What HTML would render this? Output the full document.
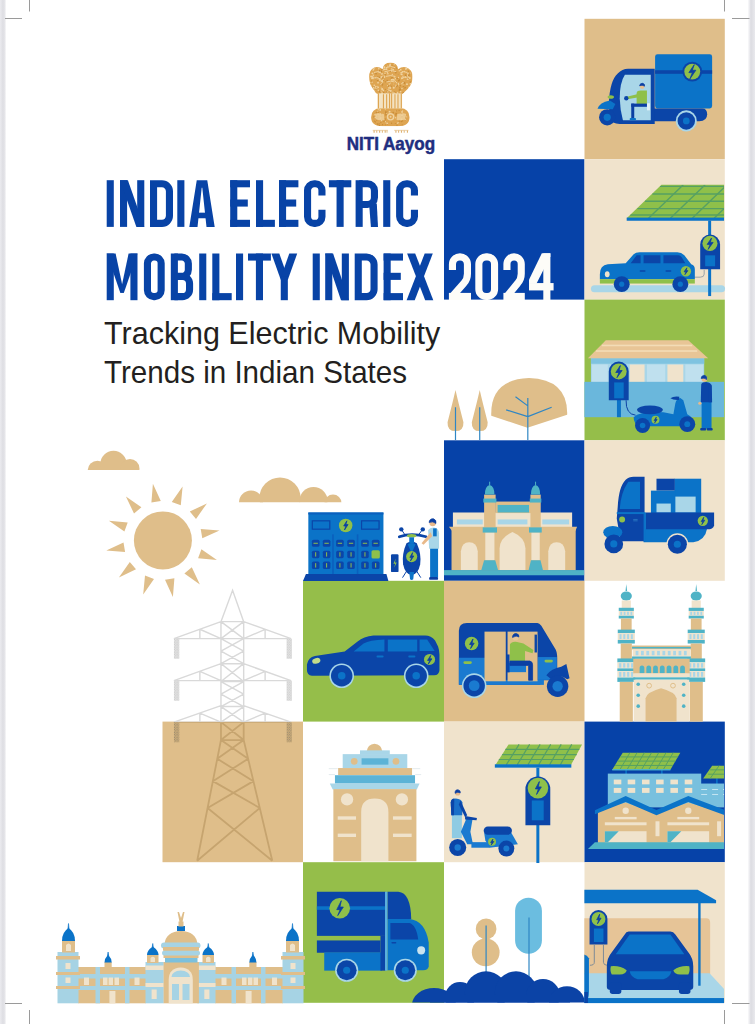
<!DOCTYPE html>
<html><head><meta charset="utf-8">
<style>
html,body{margin:0;padding:0;background:#fff;width:755px;height:1024px;overflow:hidden}
svg{position:absolute;left:0;top:0;display:block}
path[fill="#0b3fa3"]{stroke:#0b3fa3;stroke-width:4;stroke-linejoin:round}
.sub{position:absolute;white-space:nowrap;font-family:"Liberation Sans",sans-serif;color:#231f20;font-size:31.3px;line-height:1;transform-origin:0 0}
</style></head><body>
<svg width="755" height="1024" viewBox="0 0 755 1024">
<defs>
<linearGradient id="gl" x1="0" x2="1"><stop offset="0" stop-color="#ebebef"/><stop offset="0.45" stop-color="#dedee3"/><stop offset="0.7" stop-color="#e5e5e9"/><stop offset="1" stop-color="#ffffff"/></linearGradient>
<linearGradient id="gr" x1="0" x2="1"><stop offset="0" stop-color="#ffffff"/><stop offset="0.3" stop-color="#e9e9ed"/><stop offset="0.45" stop-color="#dcdce1"/><stop offset="1" stop-color="#e9e9ed"/></linearGradient>
</defs>
<rect x="0" y="0" width="6.5" height="1024" fill="url(#gl)"/>
<rect x="747.5" y="0" width="7.5" height="1024" fill="url(#gr)"/>
<g stroke="#9a9a9a" stroke-width="1">
<line x1="29.5" y1="0" x2="29.5" y2="11.5"/><line x1="5" y1="18.5" x2="22" y2="18.5"/>
<line x1="724.5" y1="0" x2="724.5" y2="11.5"/><line x1="732" y1="18.5" x2="749.5" y2="18.5"/>
<line x1="5" y1="1003.5" x2="22" y2="1003.5"/><line x1="29.5" y1="1010" x2="29.5" y2="1024"/>
<line x1="732" y1="1003.5" x2="749.5" y2="1003.5"/><line x1="724.5" y1="1010" x2="724.5" y2="1024"/>
</g>
<rect x="584.5" y="18.8" width="140.30" height="140.40" fill="#dfbe8a"/>
<rect x="444" y="159.2" width="140.50" height="140.40" fill="#0642a8"/>
<rect x="584.5" y="159.2" width="140.30" height="140.40" fill="#f0e3cc"/>
<rect x="584.5" y="299.6" width="140.30" height="140.70" fill="#95be4a"/>
<rect x="444" y="440.3" width="140.50" height="140.50" fill="#0642a8"/>
<rect x="584.5" y="440.3" width="140.30" height="140.50" fill="#f0e3cc"/>
<rect x="303" y="580.8" width="141.00" height="140.80" fill="#95be4a"/>
<rect x="444" y="580.8" width="140.50" height="140.80" fill="#dfbe8a"/>
<rect x="162.5" y="721.6" width="140.50" height="140.60" fill="#dfbe8a"/>
<rect x="444" y="721.6" width="140.50" height="140.60" fill="#f0e3cc"/>
<rect x="584.5" y="721.6" width="140.30" height="140.60" fill="#0642a8"/>
<rect x="303" y="862.2" width="141.00" height="140.60" fill="#95be4a"/>
<rect x="584.5" y="862.2" width="140.30" height="140.60" fill="#f0e3cc"/>
<!-- sky -->
<defs><clipPath id="cpC1"><rect x="80" y="440" width="70" height="30.1"/></clipPath><clipPath id="cpC2"><rect x="230" y="470" width="120" height="32.3"/></clipPath></defs>
<g fill="#dfbe8a">
<circle cx="162.9" cy="540.4" r="29"/>
<path d="M152.9,483.8L151.4,502.6L160.8,501.0Z M182.6,486.4L171.8,501.9L180.8,505.2Z M206.9,503.4L189.8,511.5L196.0,518.9Z M219.5,530.4L200.7,528.9L202.3,538.3Z M216.9,560.1L201.4,549.3L198.1,558.3Z M199.9,584.4L191.8,567.3L184.4,573.5Z M172.9,597.0L174.4,578.2L165.0,579.8Z M143.2,594.4L154.0,578.9L145.0,575.6Z M118.9,577.4L136.0,569.3L129.8,561.9Z M106.3,550.4L125.1,551.9L123.5,542.5Z M108.9,520.7L124.4,531.5L127.7,522.5Z M125.9,496.4L134.0,513.5L141.4,507.3Z"/>
<g clip-path="url(#cpC1)"><circle cx="97.5" cy="470.5" r="9.8"/><circle cx="113.5" cy="464" r="13.2"/><circle cx="130" cy="468.5" r="9.5"/></g>
<g clip-path="url(#cpC2)"><circle cx="251" cy="502.5" r="12"/><circle cx="280" cy="498" r="20.6"/><circle cx="313.5" cy="501" r="14"/><circle cx="333" cy="503" r="8.5"/></g>
</g>

<!-- tower -->
<defs>
<pattern id="stip" width="14" height="14" patternUnits="userSpaceOnUse"><rect width="14" height="14" fill="#cfae78"/><circle cx="4" cy="4" r="3.2" fill="#8a8070"/><circle cx="11" cy="11" r="3.2" fill="#8a8070"/></pattern>
<pattern id="stipg" width="14" height="14" patternUnits="userSpaceOnUse"><rect width="14" height="14" fill="#e2e2e2"/><circle cx="4" cy="4" r="3" fill="#c4c4c4"/><circle cx="11" cy="11" r="3" fill="#c4c4c4"/></pattern>
<clipPath id="cpUp"><rect x="0" y="0" width="755" height="722.2"/></clipPath>
<clipPath id="cpTan"><rect x="162.5" y="722.2" width="140.5" height="140"/></clipPath>
</defs>
<g clip-path="url(#cpUp)"><g transform="translate(165,585) scale(0.1788)">
<path d="M313,205 L378,30 L440,205 M313,205 V867 M440,205 V867 M313,205 H440 M313,300 H440 M313,440 H440 M313,540 H440 M313,680 H440 M313,767 H440 M313,867 H440 M313,205 L440,300 M440,205 L313,300 M313,300 L440,370 M440,300 L313,370 M313,370 L440,440 M440,370 L313,440 M313,440 L440,540 M440,440 L313,540 M313,540 L440,610 M440,540 L313,610 M313,610 L440,680 M440,610 L313,680 M313,680 L440,767 M440,680 L313,767 M313,767 L440,867 M440,767 L313,867 M313,867 L180,1542 M440,867 L600,1542 M313.0,867 L464.9,972 M440.0,867 L292.3,972 M292.3,972 L494.5,1097 M464.9,972 L267.7,1097 M267.7,1097 L530.1,1247 M494.5,1097 L238.1,1247 M238.1,1247 L600.0,1542 M530.1,1247 L180.0,1542 M313,205 L50,300 H705 L440,205 M195,247.6 V300 M560,248.0 V300 M195,247.6 L313,300 M560,248.0 L440,300 M313,440 L50,535 H705 L440,440 M195,482.6 V535 M560,483.0 V535 M195,482.6 L313,535 M560,483.0 L440,535 M313,675 L50,767 H705 L440,675 M195,716.3 V767 M560,716.7 V767 M195,716.3 L313,767 M560,716.7 L440,767" fill="none" stroke="#d9d9d9" stroke-width="8"/><path d="M50,300h30v112h-30z M680,300h30v112h-30z M50,535h30v112h-30z M680,535h30v112h-30z M50,767h30v112h-30z M680,767h30v112h-30z" fill="url(#stipg)"/>
</g></g>
<g clip-path="url(#cpTan)"><g transform="translate(165,585) scale(0.1788)">
<path d="M313,205 L378,30 L440,205 M313,205 V867 M440,205 V867 M313,205 H440 M313,300 H440 M313,440 H440 M313,540 H440 M313,680 H440 M313,767 H440 M313,867 H440 M313,205 L440,300 M440,205 L313,300 M313,300 L440,370 M440,300 L313,370 M313,370 L440,440 M440,370 L313,440 M313,440 L440,540 M440,440 L313,540 M313,540 L440,610 M440,540 L313,610 M313,610 L440,680 M440,610 L313,680 M313,680 L440,767 M440,680 L313,767 M313,767 L440,867 M440,767 L313,867 M313,867 L180,1542 M440,867 L600,1542 M313.0,867 L464.9,972 M440.0,867 L292.3,972 M292.3,972 L494.5,1097 M464.9,972 L267.7,1097 M267.7,1097 L530.1,1247 M494.5,1097 L238.1,1247 M238.1,1247 L600.0,1542 M530.1,1247 L180.0,1542 M313,205 L50,300 H705 L440,205 M195,247.6 V300 M560,248.0 V300 M195,247.6 L313,300 M560,248.0 L440,300 M313,440 L50,535 H705 L440,440 M195,482.6 V535 M560,483.0 V535 M195,482.6 L313,535 M560,483.0 L440,535 M313,675 L50,767 H705 L440,675 M195,716.3 V767 M560,716.7 V767 M195,716.3 L313,767 M560,716.7 L440,767" fill="none" stroke="#c6a46f" stroke-width="10"/><path d="M50,300h30v112h-30z M680,300h30v112h-30z M50,535h30v112h-30z M680,535h30v112h-30z M50,767h30v112h-30z M680,767h30v112h-30z" fill="url(#stip)"/>
</g></g>

<!-- logo -->
<defs><clipPath id="cpEm"><path d="M115,240 Q112,150 180,118 Q240,105 285,140 Q295,62 382,58 Q470,62 480,140 Q525,105 585,118 Q665,150 665,240 Q660,330 600,390 Q560,430 532,452 H215 Q190,430 165,390 Q115,330 115,240Z M140,745 Q140,640 260,630 L505,630 Q623,640 623,745 Q623,858 480,858 L285,858 Q140,858 140,745Z"/></clipPath></defs>
<g transform="translate(360,58) scale(0.07947)">
<g clip-path="url(#cpEm)">
<rect x="100" y="50" width="560" height="820" fill="#dea552"/>
<circle cx="251" cy="277" r="12" fill="#f0d3a0"/>
<circle cx="372" cy="291" r="6" fill="#c88c38"/>
<circle cx="557" cy="169" r="7" fill="#f0d3a0"/>
<circle cx="496" cy="276" r="9" fill="#c88c38"/>
<circle cx="456" cy="127" r="7" fill="#c88c38"/>
<circle cx="602" cy="218" r="11" fill="#f0d3a0"/>
<circle cx="163" cy="358" r="6" fill="#c88c38"/>
<circle cx="528" cy="383" r="9" fill="#f0d3a0"/>
<circle cx="497" cy="404" r="12" fill="#c88c38"/>
<circle cx="348" cy="347" r="9" fill="#c88c38"/>
<circle cx="607" cy="404" r="6" fill="#f0d3a0"/>
<circle cx="382" cy="168" r="9" fill="#c88c38"/>
<circle cx="450" cy="184" r="12" fill="#c88c38"/>
<circle cx="423" cy="273" r="10" fill="#f0d3a0"/>
<circle cx="591" cy="329" r="12" fill="#f0d3a0"/>
<circle cx="635" cy="325" r="11" fill="#f0d3a0"/>
<circle cx="296" cy="276" r="10" fill="#c88c38"/>
<circle cx="494" cy="150" r="8" fill="#c88c38"/>
<circle cx="193" cy="253" r="13" fill="#c88c38"/>
<circle cx="175" cy="374" r="12" fill="#f0d3a0"/>
<circle cx="140" cy="232" r="12" fill="#f0d3a0"/>
<circle cx="153" cy="304" r="9" fill="#f0d3a0"/>
<circle cx="429" cy="279" r="10" fill="#f0d3a0"/>
<circle cx="639" cy="188" r="7" fill="#f0d3a0"/>
<circle cx="403" cy="431" r="8" fill="#f0d3a0"/>
<circle cx="264" cy="332" r="8" fill="#f0d3a0"/>
<circle cx="619" cy="411" r="9" fill="#f0d3a0"/>
<circle cx="574" cy="217" r="11" fill="#c88c38"/>
<circle cx="182" cy="440" r="8" fill="#c88c38"/>
<circle cx="453" cy="342" r="9" fill="#f0d3a0"/>
<circle cx="262" cy="185" r="6" fill="#f0d3a0"/>
<circle cx="342" cy="290" r="9" fill="#f0d3a0"/>
<circle cx="430" cy="121" r="10" fill="#c88c38"/>
<circle cx="368" cy="328" r="10" fill="#f0d3a0"/>
<circle cx="272" cy="256" r="6" fill="#c88c38"/>
<circle cx="475" cy="436" r="10" fill="#f0d3a0"/>
<circle cx="282" cy="299" r="9" fill="#f0d3a0"/>
<circle cx="289" cy="210" r="8" fill="#c88c38"/>
<circle cx="545" cy="439" r="11" fill="#c88c38"/>
<circle cx="288" cy="155" r="8" fill="#f0d3a0"/>
<circle cx="226" cy="235" r="7" fill="#c88c38"/>
<circle cx="436" cy="431" r="12" fill="#c88c38"/>
<circle cx="354" cy="395" r="7" fill="#f0d3a0"/>
<circle cx="508" cy="153" r="9" fill="#c88c38"/>
<circle cx="400" cy="143" r="7" fill="#c88c38"/>
<circle cx="272" cy="377" r="7" fill="#c88c38"/>
<circle cx="446" cy="294" r="8" fill="#f0d3a0"/>
<circle cx="535" cy="173" r="10" fill="#f0d3a0"/>
<circle cx="278" cy="286" r="12" fill="#f0d3a0"/>
<circle cx="611" cy="404" r="9" fill="#c88c38"/>
<circle cx="615" cy="422" r="6" fill="#f0d3a0"/>
<circle cx="363" cy="356" r="10" fill="#c88c38"/>
<circle cx="277" cy="200" r="12" fill="#f0d3a0"/>
<circle cx="568" cy="439" r="12" fill="#f0d3a0"/>
<circle cx="153" cy="413" r="10" fill="#c88c38"/>
<circle cx="231" cy="406" r="10" fill="#f0d3a0"/>
<circle cx="137" cy="353" r="10" fill="#f0d3a0"/>
<circle cx="404" cy="90" r="7" fill="#c88c38"/>
<circle cx="194" cy="439" r="9" fill="#c88c38"/>
<circle cx="529" cy="204" r="7" fill="#f0d3a0"/>
<circle cx="252" cy="174" r="12" fill="#f0d3a0"/>
<circle cx="134" cy="309" r="6" fill="#f0d3a0"/>
<circle cx="268" cy="172" r="10" fill="#c88c38"/>
<circle cx="156" cy="193" r="12" fill="#f0d3a0"/>
<circle cx="155" cy="253" r="12" fill="#f0d3a0"/>
<circle cx="174" cy="261" r="7" fill="#f0d3a0"/>
<circle cx="167" cy="217" r="10" fill="#f0d3a0"/>
<circle cx="314" cy="143" r="9" fill="#f0d3a0"/>
<circle cx="499" cy="372" r="7" fill="#c88c38"/>
<circle cx="320" cy="300" r="9" fill="#c88c38"/>
<circle cx="539" cy="307" r="6" fill="#f0d3a0"/>
<circle cx="450" cy="359" r="9" fill="#f0d3a0"/>
<circle cx="484" cy="245" r="8" fill="#f0d3a0"/>
<circle cx="268" cy="294" r="8" fill="#f0d3a0"/>
<circle cx="296" cy="438" r="12" fill="#c88c38"/>
<circle cx="264" cy="246" r="13" fill="#f0d3a0"/>
<circle cx="503" cy="393" r="12" fill="#c88c38"/>
<circle cx="470" cy="349" r="10" fill="#c88c38"/>
<circle cx="544" cy="342" r="7" fill="#f0d3a0"/>
<circle cx="579" cy="138" r="8" fill="#f0d3a0"/>
<circle cx="189" cy="253" r="13" fill="#c88c38"/>
<circle cx="425" cy="374" r="13" fill="#f0d3a0"/>
<circle cx="417" cy="271" r="7" fill="#f0d3a0"/>
<circle cx="512" cy="425" r="10" fill="#f0d3a0"/>
<circle cx="573" cy="139" r="8" fill="#f0d3a0"/>
<circle cx="222" cy="165" r="11" fill="#c88c38"/>
<circle cx="611" cy="166" r="9" fill="#c88c38"/>
<circle cx="309" cy="229" r="9" fill="#f0d3a0"/>
<circle cx="250" cy="423" r="13" fill="#c88c38"/>
<circle cx="342" cy="286" r="11" fill="#c88c38"/>
<circle cx="394" cy="254" r="9" fill="#c88c38"/>
<circle cx="583" cy="132" r="11" fill="#f0d3a0"/>
<circle cx="597" cy="267" r="10" fill="#f0d3a0"/>
<circle cx="393" cy="425" r="10" fill="#c88c38"/>
<circle cx="528" cy="325" r="10" fill="#f0d3a0"/>
<circle cx="428" cy="444" r="8" fill="#f0d3a0"/>
<circle cx="267" cy="376" r="7" fill="#f0d3a0"/>
<circle cx="314" cy="192" r="9" fill="#f0d3a0"/>
<circle cx="486" cy="337" r="9" fill="#f0d3a0"/>
<circle cx="556" cy="382" r="6" fill="#c88c38"/>
<circle cx="613" cy="368" r="9" fill="#f0d3a0"/>
<circle cx="247" cy="159" r="11" fill="#c88c38"/>
<circle cx="165" cy="153" r="8" fill="#f0d3a0"/>
<circle cx="227" cy="168" r="10" fill="#f0d3a0"/>
<circle cx="606" cy="134" r="8" fill="#f0d3a0"/>
<circle cx="346" cy="347" r="7" fill="#f0d3a0"/>
<circle cx="265" cy="417" r="8" fill="#f0d3a0"/>
<circle cx="426" cy="327" r="6" fill="#f0d3a0"/>
<circle cx="299" cy="214" r="7" fill="#f0d3a0"/>
<circle cx="428" cy="433" r="7" fill="#f0d3a0"/>
<circle cx="293" cy="406" r="11" fill="#f0d3a0"/>
<circle cx="187" cy="407" r="7" fill="#f0d3a0"/>
<circle cx="610" cy="212" r="11" fill="#f0d3a0"/>
<circle cx="281" cy="327" r="13" fill="#c88c38"/>
<circle cx="612" cy="199" r="10" fill="#c88c38"/>
<circle cx="188" cy="258" r="6" fill="#f0d3a0"/>
<circle cx="280" cy="347" r="7" fill="#c88c38"/>
<circle cx="459" cy="310" r="9" fill="#f0d3a0"/>
<circle cx="599" cy="243" r="13" fill="#f0d3a0"/>
<circle cx="202" cy="196" r="11" fill="#c88c38"/>
<circle cx="344" cy="184" r="9" fill="#f0d3a0"/>
<circle cx="289" cy="137" r="7" fill="#f0d3a0"/>
<circle cx="222" cy="280" r="11" fill="#c88c38"/>
<circle cx="313" cy="171" r="6" fill="#f0d3a0"/>
<circle cx="200" cy="252" r="8" fill="#f0d3a0"/>
<circle cx="522" cy="205" r="13" fill="#f0d3a0"/>
<circle cx="359" cy="377" r="8" fill="#f0d3a0"/>
<circle cx="187" cy="366" r="7" fill="#c88c38"/>
<circle cx="486" cy="285" r="11" fill="#c88c38"/>
<circle cx="546" cy="355" r="10" fill="#c88c38"/>
<circle cx="568" cy="373" r="10" fill="#c88c38"/>
<circle cx="420" cy="147" r="9" fill="#f0d3a0"/>
<circle cx="279" cy="390" r="12" fill="#f0d3a0"/>
<circle cx="614" cy="216" r="12" fill="#c88c38"/>
<circle cx="288" cy="259" r="11" fill="#c88c38"/>
<circle cx="283" cy="397" r="6" fill="#f0d3a0"/>
<circle cx="227" cy="311" r="11" fill="#f0d3a0"/>
<circle cx="468" cy="257" r="10" fill="#c88c38"/>
<circle cx="231" cy="367" r="6" fill="#f0d3a0"/>
<circle cx="385" cy="315" r="7" fill="#f0d3a0"/>
<circle cx="274" cy="320" r="7" fill="#f0d3a0"/>
<circle cx="534" cy="307" r="6" fill="#f0d3a0"/>
<circle cx="445" cy="262" r="10" fill="#f0d3a0"/>
<circle cx="604" cy="193" r="11" fill="#f0d3a0"/>
<circle cx="199" cy="396" r="11" fill="#c88c38"/>
<circle cx="637" cy="449" r="13" fill="#f0d3a0"/>
<circle cx="569" cy="236" r="9" fill="#f0d3a0"/>
<circle cx="170" cy="146" r="9" fill="#f0d3a0"/>
<circle cx="371" cy="96" r="7" fill="#f0d3a0"/>
<circle cx="379" cy="79" r="11" fill="#f0d3a0"/>
<circle cx="335" cy="139" r="11" fill="#f0d3a0"/>
<circle cx="317" cy="211" r="9" fill="#c88c38"/>
<circle cx="335" cy="438" r="8" fill="#f0d3a0"/>
<circle cx="319" cy="395" r="7" fill="#c88c38"/>
<circle cx="237" cy="135" r="10" fill="#f0d3a0"/>
<circle cx="455" cy="123" r="7" fill="#c88c38"/>
<circle cx="380" cy="93" r="9" fill="#f0d3a0"/>
<circle cx="494" cy="161" r="9" fill="#f0d3a0"/>
<circle cx="144" cy="437" r="8" fill="#f0d3a0"/>
<circle cx="328" cy="142" r="10" fill="#f0d3a0"/>
<circle cx="307" cy="117" r="12" fill="#f0d3a0"/>
<circle cx="278" cy="443" r="12" fill="#f0d3a0"/>
<circle cx="620" cy="256" r="8" fill="#c88c38"/>
<circle cx="545" cy="309" r="8" fill="#f0d3a0"/>
<circle cx="159" cy="235" r="10" fill="#f0d3a0"/>
<circle cx="176" cy="135" r="9" fill="#f0d3a0"/>
<circle cx="226" cy="264" r="7" fill="#f0d3a0"/>
<circle cx="627" cy="251" r="12" fill="#f0d3a0"/>
<circle cx="285" cy="301" r="7" fill="#f0d3a0"/>
<circle cx="280" cy="393" r="10" fill="#f0d3a0"/>
<circle cx="409" cy="274" r="7" fill="#f0d3a0"/>
<circle cx="507" cy="349" r="9" fill="#c88c38"/>
<circle cx="224" cy="375" r="8" fill="#f0d3a0"/>
<circle cx="528" cy="253" r="12" fill="#f0d3a0"/>
<circle cx="389" cy="356" r="11" fill="#c88c38"/>
<circle cx="218" cy="356" r="7" fill="#f0d3a0"/>
<circle cx="483" cy="321" r="8" fill="#f0d3a0"/>
<circle cx="560" cy="314" r="12" fill="#c88c38"/>
<circle cx="359" cy="411" r="11" fill="#c88c38"/>
<circle cx="229" cy="369" r="8" fill="#f0d3a0"/>
<circle cx="289" cy="241" r="7" fill="#c88c38"/>
<circle cx="481" cy="442" r="7" fill="#c88c38"/>
<circle cx="277" cy="149" r="10" fill="#c88c38"/>
<circle cx="388" cy="415" r="12" fill="#f0d3a0"/>
<circle cx="403" cy="142" r="10" fill="#f0d3a0"/>
<circle cx="151" cy="376" r="6" fill="#c88c38"/>
<circle cx="623" cy="146" r="7" fill="#f0d3a0"/>
<circle cx="367" cy="155" r="10" fill="#c88c38"/>
<circle cx="457" cy="359" r="8" fill="#c88c38"/>
<circle cx="438" cy="239" r="8" fill="#f0d3a0"/>
<circle cx="612" cy="239" r="7" fill="#f0d3a0"/>
<circle cx="405" cy="246" r="10" fill="#c88c38"/>
<circle cx="304" cy="143" r="12" fill="#f0d3a0"/>
<circle cx="480" cy="209" r="6" fill="#c88c38"/>
<circle cx="395" cy="165" r="8" fill="#f0d3a0"/>
<circle cx="350" cy="102" r="8" fill="#f0d3a0"/>
<circle cx="512" cy="149" r="12" fill="#f0d3a0"/>
<circle cx="633" cy="303" r="10" fill="#c88c38"/>
<circle cx="344" cy="430" r="13" fill="#c88c38"/>
<circle cx="377" cy="364" r="9" fill="#f0d3a0"/>
<circle cx="430" cy="83" r="7" fill="#f0d3a0"/>
<circle cx="179" cy="344" r="10" fill="#f0d3a0"/>
<circle cx="161" cy="249" r="11" fill="#f0d3a0"/>
<circle cx="271" cy="234" r="9" fill="#f0d3a0"/>
<circle cx="230" cy="367" r="7" fill="#f0d3a0"/>
<circle cx="283" cy="226" r="7" fill="#f0d3a0"/>
<circle cx="379" cy="378" r="13" fill="#f0d3a0"/>
<circle cx="630" cy="403" r="13" fill="#f0d3a0"/>
<circle cx="350" cy="427" r="10" fill="#f0d3a0"/>
<circle cx="406" cy="207" r="8" fill="#f0d3a0"/>
<circle cx="366" cy="407" r="11" fill="#f0d3a0"/>
<circle cx="604" cy="267" r="7" fill="#f0d3a0"/>
<circle cx="401" cy="274" r="13" fill="#f0d3a0"/>
<circle cx="131" cy="444" r="8" fill="#f0d3a0"/>
<circle cx="622" cy="208" r="6" fill="#c88c38"/>
<circle cx="351" cy="199" r="10" fill="#f0d3a0"/>
<circle cx="544" cy="241" r="8" fill="#f0d3a0"/>
<circle cx="539" cy="229" r="8" fill="#f0d3a0"/>
<circle cx="638" cy="133" r="8" fill="#c88c38"/>
<circle cx="199" cy="358" r="10" fill="#f0d3a0"/>
<circle cx="554" cy="280" r="6" fill="#f0d3a0"/>
<circle cx="153" cy="255" r="12" fill="#f0d3a0"/>
<circle cx="592" cy="248" r="11" fill="#c88c38"/>
<circle cx="569" cy="441" r="9" fill="#c88c38"/>
<circle cx="394" cy="135" r="7" fill="#f0d3a0"/>
<circle cx="201" cy="386" r="9" fill="#f0d3a0"/>
<circle cx="309" cy="243" r="9" fill="#f0d3a0"/>
<circle cx="291" cy="268" r="9" fill="#f0d3a0"/>
<circle cx="248" cy="244" r="10" fill="#c88c38"/>
<circle cx="146" cy="288" r="7" fill="#c88c38"/>
<circle cx="194" cy="368" r="7" fill="#f0d3a0"/>
<circle cx="451" cy="718" r="10" fill="#c88c38"/>
<circle cx="573" cy="775" r="8" fill="#f0d3a0"/>
<circle cx="315" cy="777" r="8" fill="#c88c38"/>
<circle cx="284" cy="839" r="8" fill="#c88c38"/>
<circle cx="335" cy="699" r="8" fill="#f0d3a0"/>
<circle cx="344" cy="829" r="7" fill="#c88c38"/>
<circle cx="254" cy="657" r="10" fill="#f0d3a0"/>
<circle cx="522" cy="773" r="11" fill="#f0d3a0"/>
<circle cx="579" cy="785" r="7" fill="#c88c38"/>
<circle cx="373" cy="696" r="7" fill="#f0d3a0"/>
<circle cx="374" cy="675" r="11" fill="#f0d3a0"/>
<circle cx="245" cy="848" r="9" fill="#c88c38"/>
<circle cx="230" cy="651" r="8" fill="#f0d3a0"/>
<circle cx="442" cy="667" r="6" fill="#f0d3a0"/>
<circle cx="574" cy="752" r="10" fill="#c88c38"/>
<circle cx="352" cy="678" r="7" fill="#f0d3a0"/>
<circle cx="225" cy="671" r="8" fill="#f0d3a0"/>
<circle cx="564" cy="767" r="6" fill="#f0d3a0"/>
<circle cx="326" cy="670" r="7" fill="#c88c38"/>
<circle cx="319" cy="840" r="7" fill="#c88c38"/>
<circle cx="526" cy="739" r="9" fill="#c88c38"/>
<circle cx="529" cy="733" r="8" fill="#c88c38"/>
<circle cx="396" cy="733" r="10" fill="#c88c38"/>
<circle cx="254" cy="765" r="8" fill="#f0d3a0"/>
<circle cx="531" cy="841" r="7" fill="#c88c38"/>
<circle cx="255" cy="651" r="8" fill="#f0d3a0"/>
<circle cx="537" cy="664" r="7" fill="#f0d3a0"/>
<circle cx="221" cy="725" r="9" fill="#c88c38"/>
<circle cx="492" cy="659" r="8" fill="#c88c38"/>
<circle cx="418" cy="686" r="9" fill="#c88c38"/>
<circle cx="327" cy="707" r="10" fill="#c88c38"/>
<circle cx="494" cy="792" r="10" fill="#c88c38"/>
<circle cx="521" cy="700" r="7" fill="#c88c38"/>
<circle cx="222" cy="745" r="10" fill="#c88c38"/>
<circle cx="274" cy="731" r="8" fill="#c88c38"/>
<circle cx="371" cy="752" r="11" fill="#f0d3a0"/>
<circle cx="392" cy="733" r="6" fill="#f0d3a0"/>
<circle cx="349" cy="818" r="6" fill="#c88c38"/>
<circle cx="529" cy="721" r="8" fill="#f0d3a0"/>
<circle cx="260" cy="755" r="8" fill="#f0d3a0"/>
<circle cx="534" cy="789" r="6" fill="#c88c38"/>
<circle cx="326" cy="718" r="8" fill="#c88c38"/>
<circle cx="444" cy="824" r="7" fill="#c88c38"/>
<circle cx="262" cy="718" r="7" fill="#f0d3a0"/>
<circle cx="204" cy="707" r="7" fill="#c88c38"/>
<circle cx="182" cy="794" r="9" fill="#c88c38"/>
<circle cx="480" cy="814" r="8" fill="#f0d3a0"/>
<circle cx="457" cy="665" r="7" fill="#c88c38"/>
<circle cx="228" cy="704" r="7" fill="#f0d3a0"/>
<circle cx="243" cy="825" r="6" fill="#c88c38"/>
<circle cx="318" cy="642" r="8" fill="#f0d3a0"/>
<circle cx="229" cy="683" r="9" fill="#c88c38"/>
<circle cx="569" cy="703" r="6" fill="#c88c38"/>
<circle cx="581" cy="785" r="6" fill="#f0d3a0"/>
<circle cx="538" cy="797" r="6" fill="#c88c38"/>
<circle cx="174" cy="741" r="9" fill="#c88c38"/>
<circle cx="210" cy="779" r="10" fill="#c88c38"/>
<circle cx="265" cy="708" r="11" fill="#c88c38"/>
<circle cx="192" cy="749" r="9" fill="#f0d3a0"/>
<circle cx="206" cy="689" r="10" fill="#c88c38"/>
<circle cx="556" cy="723" r="11" fill="#c88c38"/>
<circle cx="448" cy="751" r="9" fill="#f0d3a0"/>
<circle cx="314" cy="763" r="9" fill="#c88c38"/>
<circle cx="319" cy="801" r="8" fill="#f0d3a0"/>
<circle cx="473" cy="820" r="8" fill="#f0d3a0"/>
<circle cx="529" cy="679" r="11" fill="#f0d3a0"/>
<circle cx="220" cy="832" r="10" fill="#c88c38"/>
<circle cx="302" cy="799" r="8" fill="#c88c38"/>
<circle cx="331" cy="819" r="7" fill="#f0d3a0"/>
<circle cx="324" cy="687" r="7" fill="#c88c38"/>
<circle cx="281" cy="786" r="10" fill="#c88c38"/>
<circle cx="257" cy="704" r="9" fill="#f0d3a0"/>
<circle cx="273" cy="787" r="10" fill="#f0d3a0"/>
<circle cx="323" cy="689" r="9" fill="#c88c38"/>
<circle cx="348" cy="677" r="8" fill="#c88c38"/>
<circle cx="194" cy="805" r="8" fill="#c88c38"/>
<circle cx="413" cy="696" r="9" fill="#c88c38"/>
<circle cx="263" cy="812" r="8" fill="#c88c38"/>
<circle cx="588" cy="741" r="7" fill="#f0d3a0"/>
<circle cx="346" cy="822" r="9" fill="#f0d3a0"/>
<circle cx="215" cy="751" r="8" fill="#c88c38"/>
<circle cx="397" cy="821" r="8" fill="#c88c38"/>
<circle cx="188" cy="713" r="9" fill="#f0d3a0"/>
<circle cx="465" cy="845" r="9" fill="#c88c38"/>
<circle cx="455" cy="701" r="11" fill="#c88c38"/>
<circle cx="521" cy="797" r="11" fill="#c88c38"/>
<circle cx="348" cy="757" r="8" fill="#c88c38"/>
<circle cx="325" cy="678" r="9" fill="#c88c38"/>
<circle cx="406" cy="721" r="8" fill="#f0d3a0"/>
<circle cx="238" cy="832" r="7" fill="#c88c38"/>
<g fill="none" stroke="#f0d3a0" stroke-width="12" stroke-linecap="round">
<path d="M330,120 Q385,90 440,120 M320,170 Q385,140 450,170 M180,180 Q220,160 260,185 M510,185 Q550,160 590,180 M170,250 Q210,230 250,260 M520,260 Q560,230 600,250 M330,230 Q385,210 440,230 M340,300 Q385,280 430,300"/>
</g>
<circle cx="385" cy="740" r="48" fill="#f0d3a0"/><circle cx="385" cy="740" r="30" fill="#dea552"/><circle cx="385" cy="740" r="12" fill="#f0d3a0"/>
<path d="M190,700 Q230,690 300,705 L310,780 Q250,790 200,775Z" fill="#f0d3a0" opacity="0.8"/>
<path d="M580,700 Q540,690 470,705 L460,780 Q520,790 570,775Z" fill="#f0d3a0" opacity="0.8"/>
</g>
<rect x="220" y="445" width="310" height="190" fill="#f4e3c2"/>
<g stroke="#dea552" stroke-width="14">
<path d="M232,445 V635 M295,455 V635 M335,455 V635 M372,445 V635 M398,445 V635 M440,455 V635 M478,455 V635 M520,445 V635"/>
</g>
<g fill="#d9a455" opacity="0.85">
<rect x="160" y="905" width="190" height="7"/><rect x="430" y="905" width="180" height="7"/>
<rect x="170" y="912" width="15" height="28"/><rect x="205" y="912" width="12" height="28"/><rect x="240" y="912" width="14" height="28"/><rect x="275" y="912" width="12" height="28"/><rect x="310" y="912" width="14" height="28"/><rect x="335" y="912" width="10" height="28"/>
<rect x="445" y="912" width="14" height="28"/><rect x="480" y="912" width="12" height="28"/><rect x="515" y="912" width="14" height="28"/><rect x="550" y="912" width="12" height="28"/><rect x="590" y="912" width="14" height="28"/>
</g>
</g>
<text x="346.8" y="149.6" font-family="Liberation Sans" font-weight="bold" font-size="18" fill="#1f2e80" stroke="#1f2e80" stroke-width="0.5" textLength="88.3" lengthAdjust="spacingAndGlyphs">NITI Aayog</text>

<!-- t03 -->
<g transform="translate(580,15) scale(0.19868)">
<!-- cargo box -->
<rect x="378" y="198" width="287" height="272" rx="12" fill="#0b73c8"/>
<rect x="378" y="278" width="287" height="18" fill="#0b45a8"/>
<circle cx="565" cy="285" r="50" fill="#0b45a8"/>
<circle cx="565" cy="285" r="40" fill="#8fc04a"/>
<path d="M575,250 L548,290 L566,290 L553,322 L583,278 L565,278 Z" fill="#0b3fa3"/>
<!-- chassis -->
<path d="M365,470 H615 Q640,470 640,500 Q640,535 600,535 H365Z" fill="#0b45a8"/>
<!-- cab -->
<path d="M145,445 Q150,330 190,295 Q212,271 242,271 H376 V548 H200 Q160,548 150,520 Z" fill="#0b45a8"/>
<path d="M226,301 H356 V530 H216 Q202,480 200,420 Q200,340 226,301Z" fill="#a9d6e8"/>
<!-- driver -->
<path d="M285,392 Q288,380 305,380 H337 V448 H285Z" fill="#8fc04a"/>
<path d="M292,398 L236,412 L238,424 L296,414Z" fill="#8fc04a"/>
<circle cx="313" cy="360" r="12" fill="#e8c08f"/>
<path d="M300,356 Q302,343 316,344 Q327,347 325,358 Q313,350 300,356Z" fill="#0b3fa3"/>
<rect x="258" y="446" width="80" height="16" fill="#0b3fa3"/>
<rect x="258" y="446" width="15" height="80" fill="#0b3fa3"/>
<rect x="250" y="518" width="32" height="12" rx="5" fill="#0b73c8"/>
<rect x="337" y="444" width="15" height="36" fill="#dff0f7"/>
<rect x="222" y="408" width="22" height="22" rx="11" fill="#0b45a8"/>
<!-- front fender & light -->
<path d="M88,472 Q98,440 150,430 L178,448 L165,474Z" fill="#0b73c8"/>
<ellipse cx="155" cy="413" rx="16" ry="9" fill="#8fc04a"/>
<!-- wheels -->
<circle cx="137" cy="515" r="41" fill="#0b45a8"/>
<circle cx="137" cy="515" r="18" fill="#0b73c8"/>
<circle cx="535" cy="533" r="53" fill="#a9d6e8"/>
<circle cx="535" cy="533" r="44" fill="#0b45a8"/>
<circle cx="535" cy="533" r="17" fill="#0b73c8"/>
</g>

<!-- t13 -->
<defs><clipPath id="cp13"><path d="M410,150 H725 V318 H235 Z"/></clipPath></defs>
<g transform="translate(580,155) scale(0.19868)">
<!-- ground -->
<rect x="55" y="655" width="675" height="36" rx="18" fill="#a9d6e8"/>
<!-- solar panel -->
<path d="M410,150 H725 V318 H235 Z" fill="#8fc04a"/>
<g stroke="#56a063" stroke-width="7" fill="none" clip-path="url(#cp13)">
<path d="M402,158 H725 M364,196 H725 M327,233 H725 M289,270 H725 M252,302 H725"/>
<path d="M520,150 L345,318 M630,150 L455,318 M740,150 L565,318 M850,150 L675,318"/>
</g>
<rect x="235" y="315" width="490" height="16" fill="#0b73c8"/>
<!-- pole -->
<rect x="645" y="330" width="15" height="380" fill="#0b73c8"/>
<!-- charger -->
<path d="M605,450 A50,50 0 0 1 705,450 V575 H605Z" fill="#0b45a8"/>
<circle cx="654" cy="445" r="38" fill="#8fc04a"/>
<path d="M662,418 L640,450 L655,450 L645,475 L670,440 L656,440 Z" fill="#0b3fa3"/>
<rect x="630" y="505" width="50" height="55" fill="#0b73c8"/>
<path d="M625,578 V600 Q625,615 605,615 H570" stroke="#9aa3a8" stroke-width="5" fill="none"/>
<!-- car -->
<path d="M230,545 L270,500 Q280,490 300,490 H490 Q510,490 525,505 L560,550 Q578,555 578,575 V625 H100 V600 Q100,555 140,550 Z" fill="#0b73c8"/>
<path d="M255,545 L285,505 H305 V545Z M320,505 H405 V545 H320Z M420,505 H495 Q505,505 512,515 L530,545 H420Z" fill="#0b45a8"/>
<ellipse cx="137" cy="600" rx="12" ry="15" fill="#f0e3cc"/>
<rect x="300" y="580" width="30" height="8" rx="4" fill="#0b45a8"/>
<rect x="430" y="580" width="30" height="8" rx="4" fill="#0b45a8"/>
<rect x="100" y="625" width="478" height="22" fill="#8fc04a"/>
<circle cx="533" cy="585" r="26" fill="#8fc04a"/>
<path d="M538,568 L524,588 L534,588 L528,602 L543,582 L534,582 Z" fill="#0b3fa3"/>
<circle cx="210" cy="650" r="40" fill="#0b45a8"/>
<circle cx="210" cy="650" r="13" fill="#0b73c8"/>
<circle cx="505" cy="650" r="40" fill="#0b45a8"/>
<circle cx="505" cy="650" r="13" fill="#0b73c8"/>
</g>

<!-- t23 -->
<g transform="translate(580,295) scale(0.19868)">
<!-- building -->
<rect x="55" y="318" width="570" height="125" fill="#a9d6e8"/>
<rect x="55" y="318" width="570" height="28" fill="#7fc3e0"/>
<rect x="250" y="350" width="75" height="90" fill="#f0e3cc"/>
<rect x="440" y="350" width="80" height="90" fill="#f0e3cc"/>
<g fill="#bfe0ee">
<rect x="60" y="350" width="80" height="90"/>
<rect x="337" y="350" width="92" height="90"/>
<rect x="530" y="350" width="90" height="90"/>
</g>
<!-- roof -->
<path d="M130,228 H545 L645,318 H40 Z" fill="#e8c596"/>
<g fill="#f3dcb6"><rect x="110" y="250" width="455" height="8"/><rect x="80" y="278" width="510" height="8"/></g>
<!-- band -->
<rect x="22" y="437" width="703" height="178" fill="#6ab7dc"/>
<!-- charger -->
<rect x="186" y="520" width="20" height="95" fill="#0b73c8"/>
<path d="M145,385 A50,50 0 0 1 245,385 V530 H145Z" fill="#0b45a8"/>
<circle cx="195" cy="385" r="40" fill="#8fc04a"/>
<path d="M203,355 L180,390 L196,390 L186,416 L212,380 L197,380 Z" fill="#0b3fa3"/>
<rect x="172" y="440" width="48" height="80" fill="#0b73c8"/>
<path d="M232,530 Q230,600 280,605" stroke="#0b3fa3" stroke-width="5" fill="none"/>
<!-- scooter -->
<path d="M270,615 Q300,585 420,590 L470,600 L480,545 Q485,520 505,518 L520,530 L540,600 Q580,620 575,660 H300 Q270,650 270,615Z" fill="#0b73c8"/>
<ellipse cx="352" cy="578" rx="65" ry="22" fill="#0b45a8"/>
<path d="M455,520 Q470,508 500,512 L498,528 Q470,530 455,520Z" fill="#0b45a8"/>
<circle cx="380" cy="628" r="20" fill="#8fc04a"/>
<path d="M384,615 L373,632 L381,632 L376,643 L388,627 L381,627Z" fill="#0b3fa3"/>
<circle cx="315" cy="657" r="38" fill="#0b45a8"/>
<circle cx="315" cy="657" r="14" fill="#0b73c8"/>
<circle cx="540" cy="650" r="40" fill="#0b45a8"/>
<circle cx="540" cy="650" r="15" fill="#0b73c8"/>
<!-- person -->
<rect x="612" y="535" width="50" height="138" fill="#0b73c8"/>
<path d="M610,450 Q615,438 635,438 Q660,440 663,460 L665,540 H608Z" fill="#0b45a8"/>
<rect x="648" y="452" width="14" height="88" fill="#0b45a8"/>
<circle cx="603" cy="545" r="8" fill="#e8b98a"/>
<circle cx="626" cy="422" r="15" fill="#e8b98a"/>
<path d="M610,420 Q612,402 630,405 Q640,410 638,425 Q625,415 610,420Z" fill="#0b3fa3"/>
<rect x="605" y="670" width="30" height="12" rx="5" fill="#0b3fa3"/>
<rect x="638" y="670" width="30" height="12" rx="5" fill="#0b3fa3"/>
</g>

<!-- t22 -->
<g transform="translate(440,295) scale(0.19868)">
<g fill="#dfbe8a">
<path d="M78,478 Q92,540 118,640 Q120,685 78,685 Q36,685 38,640 Q64,540 78,478Z"/>
<path d="M200,478 Q214,540 240,640 Q242,685 200,685 Q158,685 160,640 Q186,540 200,478Z"/>
<path d="M258,608 Q252,425 448,418 Q645,425 640,603 L440,668 Z"/>
</g>
<g stroke="#2f86c4" stroke-width="6" fill="none">
<path d="M78,565 V730 M200,565 V730"/>
<path d="M442,518 V730 M442,558 L380,512 M442,612 L333,578 M442,612 L562,565"/>
</g>
</g>

<!-- t33 -->
<g transform="translate(580,435) scale(0.19868)">
<!-- cargo -->
<rect x="475" y="220" width="135" height="175" fill="#0b73c8"/>
<rect x="385" y="220" width="92" height="60" fill="#0b45a8"/>
<rect x="357" y="280" width="123" height="115" fill="#0b73c8"/>
<rect x="385" y="345" width="72" height="45" fill="#a9d6e8"/>
<rect x="480" y="310" width="102" height="80" fill="#a9d6e8"/>
<!-- lower body -->
<path d="M320,470 H640 Q630,530 570,540 H320Z" fill="#0b73c8"/>
<!-- bed side -->
<path d="M330,390 H675 V455 Q670,475 640,475 H330Z" fill="#0b45a8"/>
<!-- cab -->
<path d="M190,360 Q195,260 230,225 Q245,210 270,210 H325 V535 H205 L185,420Z" fill="#0b45a8"/>
<path d="M243,235 H302 V372 H200 Q205,290 243,235Z" fill="#0b73c8"/>
<rect x="185" y="388" width="140" height="10" fill="#0b73c8"/>
<rect x="320" y="390" width="12" height="145" fill="#0b73c8"/>
<circle cx="212" cy="425" r="15" fill="#8fc04a"/>
<path d="M268,425 h22 M268,432 h22" stroke="#3b8fd0" stroke-width="3"/>
<!-- fender -->
<ellipse cx="165" cy="490" rx="48" ry="32" fill="#0b73c8"/>
<!-- badge -->
<circle cx="618" cy="432" r="26" fill="#8fc04a"/>
<path d="M623,414 L610,436 L619,436 L613,451 L628,429 L619,429Z" fill="#0b3fa3"/>
<!-- wheels -->
<circle cx="170" cy="548" r="47" fill="#0b45a8"/>
<circle cx="170" cy="548" r="18" fill="#0b73c8"/>
<circle cx="490" cy="550" r="55" fill="#f0e3cc"/>
<circle cx="490" cy="550" r="48" fill="#0b45a8"/>
<circle cx="490" cy="550" r="18" fill="#0b73c8"/>
</g>

<!-- t32 -->
<g transform="translate(440,435) scale(0.19868)">
<!-- upper band -->
<rect x="65" y="390" width="600" height="75" fill="#f0e3cc"/>
<g fill="#a9d6e8"><rect x="85" y="425" width="130" height="25"/><rect x="290" y="425" width="150" height="25"/><rect x="515" y="425" width="135" height="25"/></g>
<!-- central upper -->
<rect x="278" y="335" width="180" height="58" fill="#dfbe8a"/>
<rect x="290" y="352" width="158" height="38" fill="#4fb3c6"/>
<!-- main body -->
<path d="M45,462 H690 L682,482 H60 Z" fill="#dfbe8a"/>
<rect x="58" y="475" width="625" height="207" fill="#dfbe8a"/>
<g fill="#f0e3cc">
<path d="M300,680 V570 Q302,515 365,488 Q428,515 430,570 V680Z"/>
<path d="M105,680 V585 Q110,540 147,540 Q185,540 190,585 V680Z"/>
<path d="M545,680 V585 Q550,540 587,540 Q625,540 630,585 V680Z"/>
</g>
<!-- towers -->
<g fill="#dfbe8a"><rect x="222" y="300" width="58" height="200"/><rect x="455" y="300" width="52" height="200"/></g>
<g fill="#f0e3cc"><rect x="228" y="490" width="46" height="140"/><rect x="460" y="490" width="42" height="140"/></g>
<g fill="#4fb3c6">
<rect x="218" y="320" width="66" height="20"/><rect x="452" y="320" width="58" height="20"/>
<rect x="215" y="465" width="72" height="26"/><rect x="448" y="465" width="64" height="26"/>
<path d="M222,630 H278 L292,680 H208Z"/><path d="M458,630 H506 L518,680 H446Z"/>
<path d="M226,300 Q226,258 250,252 Q274,258 274,300Z"/><path d="M458,300 Q458,258 481,252 Q504,258 504,300Z"/>
</g>
<g stroke="#4fb3c6" stroke-width="5"><path d="M250,252 V235 M481,252 V235"/></g>
<!-- base -->
<rect x="20" y="680" width="705" height="26" fill="#4fb3c6"/>
</g>

<!-- t31 -->
<g transform="translate(298,435) scale(0.19868)">
<!-- station -->
<rect x="52" y="390" width="378" height="312" fill="#0b73c8"/>
<rect x="52" y="390" width="378" height="10" fill="#0b5fbd"/>
<path d="M40,700 H445 L455,735 H25 Z" fill="#0b45a8"/>
<g fill="#0b5fbd"><rect x="172" y="500" width="8" height="200"/><rect x="296" y="500" width="8" height="200"/></g>
<g fill="none" stroke="#0b45a8" stroke-width="6"><rect x="72" y="432" width="88" height="42"/><rect x="320" y="432" width="88" height="42"/></g>
<circle cx="240" cy="455" r="34" fill="#8fc04a"/>
<path d="M246,432 L230,458 L241,458 L234,478 L252,451 L241,451Z" fill="#0b3fa3"/>
<g fill="#0b45a8">
<rect x="70" y="527" width="38" height="36" rx="8"/><rect x="125" y="527" width="38" height="36" rx="8"/>
<rect x="192" y="527" width="38" height="36" rx="8"/><rect x="248" y="527" width="38" height="36" rx="8"/>
<rect x="318" y="527" width="38" height="36" rx="8"/><rect x="372" y="527" width="38" height="36" rx="8"/>
<rect x="70" y="582" width="38" height="38" rx="8"/><rect x="125" y="582" width="38" height="38" rx="8"/>
<rect x="192" y="582" width="38" height="38" rx="8"/><rect x="248" y="582" width="38" height="38" rx="8"/>
<rect x="318" y="582" width="38" height="38" rx="8"/>
<rect x="70" y="637" width="38" height="38" rx="8"/><rect x="125" y="637" width="38" height="38" rx="8"/>
<rect x="192" y="637" width="38" height="38" rx="8"/><rect x="248" y="637" width="38" height="38" rx="8"/>
<rect x="318" y="637" width="38" height="38" rx="8"/><rect x="372" y="637" width="38" height="38" rx="8"/>
</g>
<rect x="370" y="580" width="42" height="42" rx="8" fill="#8fc04a"/>
<g stroke="#8fc04a" stroke-width="5">
<path d="M78,545 h22 M133,545 h22 M200,545 h22 M256,545 h22 M326,545 h22 M380,545 h22"/>
<path d="M89,590 v22 M144,590 v22 M211,590 v22 M267,590 v22 M337,590 v22 M89,645 v22 M144,645 v22 M211,645 v22 M267,645 v22 M337,645 v22 M391,645 v22"/>
</g>
<!-- battery -->
<rect x="468" y="600" width="38" height="90" rx="6" fill="#0b45a8"/>
<path d="M492,622 L480,648 L489,648 L484,668 L497,642 L488,642Z" fill="#8fc04a"/>
<!-- scooter front -->
<path d="M526,718 L550,680 M618,718 L594,680" stroke="#0b45a8" stroke-width="5"/>
<path d="M546,545 Q572,528 598,545 Q622,600 615,650 Q605,700 572,705 Q539,700 529,650 Q522,600 546,545Z" fill="#0b45a8"/>
<path d="M552,550 L572,595 L592,550 Q572,538 552,550Z" fill="#0b73c8"/>
<path d="M560,690 H584 L580,726 Q572,734 564,726Z" fill="#0b73c8"/>
<path d="M510,512 Q572,490 645,512" stroke="#0b45a8" stroke-width="14" stroke-linecap="round" fill="none"/>
<path d="M540,505 L522,478 M605,505 L625,478" stroke="#0b3fa3" stroke-width="5"/>
<circle cx="520" cy="475" r="11" fill="#0b45a8"/><circle cx="628" cy="475" r="11" fill="#0b45a8"/>
<ellipse cx="572" cy="507" rx="24" ry="9" fill="#8fc04a"/>
<rect x="560" y="515" width="24" height="30" fill="#0b73c8"/>
<circle cx="572" cy="612" r="28" fill="#8fc04a"/>
<path d="M577,592 L563,616 L573,616 L566,634 L583,609 L573,609Z" fill="#0b3fa3"/>
<!-- person -->
<rect x="665" y="568" width="40" height="150" fill="#0b73c8"/>
<rect x="660" y="715" width="45" height="14" rx="6" fill="#0b3fa3"/>
<path d="M655,480 Q662,465 685,465 Q710,470 710,495 V572 H660Z" fill="#a9d6e8"/>
<path d="M668,490 L630,535 L622,545 L632,552 L675,510Z" fill="#e8b98a"/>
<rect x="680" y="470" width="18" height="40" fill="#0b73c8"/>
<circle cx="678" cy="442" r="17" fill="#e8b98a"/>
<path d="M660,440 Q662,420 682,422 Q698,428 694,445 Q680,432 660,440Z" fill="#0b3fa3"/>
</g>

<!-- t42 -->
<g transform="translate(440,575) scale(0.19868)">
<!-- main body silhouette -->
<path d="M95,553 V280 Q95,241 135,241 H490 Q500,241 510,255 L582,375 Q590,390 590,420 V530 H505 V553Z" fill="#0b45a8"/>
<!-- lower medium blue -->
<path d="M95,417 H250 Q264,417 264,432 V553 H95Z" fill="#1a7ad0"/>
<path d="M492,413 H588 V528 H492Z" fill="#1a7ad0"/>
<rect x="223" y="528" width="300" height="25" fill="#1a7ad0"/>
<!-- openings -->
<rect x="224" y="285" width="107" height="250" fill="#dfbe8a"/>
<rect x="340" y="285" width="151" height="250" fill="#dfbe8a"/>
<rect x="476" y="300" width="12" height="90" fill="#0b45a8"/>
<!-- driver -->
<rect x="343" y="441" width="90" height="48" fill="#1a7ad0"/>
<rect x="336" y="400" width="14" height="90" fill="#0b45a8"/>
<path d="M352,350 Q360,333 388,337 L420,345 L470,378 L466,394 L428,382 V433 H352Z" fill="#8fc04a"/>
<circle cx="381" cy="314" r="15" fill="#eac79a"/>
<path d="M365,314 Q366,294 384,295 Q399,298 397,312 Q385,302 365,314Z" fill="#0b3fa3"/>
<path d="M352,433 H452 Q466,436 466,452 V530 H446 V455 H352Z" fill="#0b3fa3"/>
<!-- lights & badge -->
<circle cx="159" cy="345" r="34" fill="#8fc04a"/>
<path d="M166,322 L149,350 L161,350 L154,370 L172,343 L161,343Z" fill="#0b3fa3"/>
<rect x="118" y="434" width="42" height="14" rx="7" fill="#8fc04a"/>
<rect x="526" y="426" width="42" height="14" rx="7" fill="#8fc04a"/>
<!-- front fender -->
<path d="M535,505 Q560,470 610,462 L636,448 L652,520 L640,525 Q600,495 560,525Z" fill="#0b45a8"/>
<!-- wheels -->
<circle cx="172" cy="557" r="62" fill="#a9d6e8"/>
<circle cx="172" cy="557" r="54" fill="#0b45a8"/>
<circle cx="172" cy="557" r="27" fill="#1a7ad0"/>
<circle cx="592" cy="560" r="54" fill="#0b45a8"/>
<circle cx="592" cy="560" r="26" fill="#1a7ad0"/>
</g>

<!-- t41 -->
<g transform="translate(298,575) scale(0.19868)">
<path d="M70,507 Q45,505 45,478 V450 Q52,415 85,408 L235,385 L300,335 Q330,310 380,305 H640 Q670,305 690,330 L705,360 Q712,380 712,400 V480 Q710,505 685,505 Z" fill="#0b45a8"/>
<g fill="#0b73c8">
<path d="M280,385 L330,345 Q360,328 435,325 V385 Z"/>
<path d="M452,325 H600 V385 H452Z"/>
<path d="M612,325 H650 L688,382 H612Z"/>
<rect x="395" y="405" width="36" height="10" rx="5"/><rect x="555" y="405" width="36" height="10" rx="5"/>
</g>
<ellipse cx="92" cy="432" rx="21" ry="14" fill="#c3dc8a" transform="rotate(-15 92 432)"/>
<circle cx="662" cy="425" r="28" fill="#8fc04a"/>
<path d="M668,405 L652,430 L663,430 L656,448 L674,422 L663,422Z" fill="#0b3fa3"/>
<circle cx="220" cy="507" r="62" fill="#a9d6e8"/>
<circle cx="220" cy="507" r="54" fill="#0b45a8"/>
<circle cx="220" cy="507" r="19" fill="#0b73c8"/>
<circle cx="595" cy="507" r="62" fill="#a9d6e8"/>
<circle cx="595" cy="507" r="54" fill="#0b45a8"/>
<circle cx="595" cy="507" r="19" fill="#0b73c8"/>
</g>

<!-- t43 -->
<g transform="translate(580,575) scale(0.19868)">
<path d="M233,45 L237,80 H229Z" fill="#4fb3c6"/>
<ellipse cx="233" cy="106" rx="28" ry="23" fill="#4fb3c6"/>
<rect x="210" y="128" width="46" height="40" fill="#f0e3cc"/>
<rect x="195" y="165" width="76" height="16" fill="#4fb3c6"/>
<rect x="195" y="181" width="76" height="24" fill="#f0e3cc"/>
<rect x="195" y="205" width="76" height="14" fill="#4fb3c6"/>
<rect x="203" y="185" width="9" height="16" fill="#a9d6e8"/>
<rect x="220" y="185" width="9" height="16" fill="#a9d6e8"/>
<rect x="237" y="185" width="9" height="16" fill="#a9d6e8"/>
<rect x="254" y="185" width="9" height="16" fill="#a9d6e8"/>
<rect x="206" y="219" width="54" height="58" fill="#dfbe8a"/>
<rect x="190" y="275" width="86" height="18" fill="#4fb3c6"/>
<rect x="190" y="293" width="86" height="34" fill="#f0e3cc"/>
<rect x="190" y="327" width="86" height="18" fill="#4fb3c6"/>
<rect x="199" y="298" width="10" height="24" fill="#a9d6e8"/>
<rect x="218" y="298" width="10" height="24" fill="#a9d6e8"/>
<rect x="237" y="298" width="10" height="24" fill="#a9d6e8"/>
<rect x="256" y="298" width="10" height="24" fill="#a9d6e8"/>
<rect x="205" y="345" width="56" height="78" fill="#dfbe8a"/>
<rect x="188" y="420" width="90" height="20" fill="#4fb3c6"/>
<rect x="188" y="440" width="90" height="30" fill="#f0e3cc"/>
<rect x="188" y="470" width="90" height="14" fill="#4fb3c6"/>
<rect x="188" y="484" width="90" height="32" fill="#f0e3cc"/>
<rect x="188" y="516" width="90" height="22" fill="#4fb3c6"/>
<rect x="197" y="444" width="11" height="22" fill="#a9d6e8"/>
<rect x="197" y="488" width="11" height="24" fill="#a9d6e8"/>
<rect x="217" y="444" width="11" height="22" fill="#a9d6e8"/>
<rect x="217" y="488" width="11" height="24" fill="#a9d6e8"/>
<rect x="237" y="444" width="11" height="22" fill="#a9d6e8"/>
<rect x="237" y="488" width="11" height="24" fill="#a9d6e8"/>
<rect x="257" y="444" width="11" height="22" fill="#a9d6e8"/>
<rect x="257" y="488" width="11" height="24" fill="#a9d6e8"/>
<rect x="200" y="538" width="66" height="200" fill="#dfbe8a"/>
<path d="M585,45 L589,80 H581Z" fill="#4fb3c6"/>
<ellipse cx="585" cy="106" rx="28" ry="23" fill="#4fb3c6"/>
<rect x="562" y="128" width="46" height="40" fill="#f0e3cc"/>
<rect x="547" y="165" width="76" height="16" fill="#4fb3c6"/>
<rect x="547" y="181" width="76" height="24" fill="#f0e3cc"/>
<rect x="547" y="205" width="76" height="14" fill="#4fb3c6"/>
<rect x="555" y="185" width="9" height="16" fill="#a9d6e8"/>
<rect x="572" y="185" width="9" height="16" fill="#a9d6e8"/>
<rect x="589" y="185" width="9" height="16" fill="#a9d6e8"/>
<rect x="606" y="185" width="9" height="16" fill="#a9d6e8"/>
<rect x="558" y="219" width="54" height="58" fill="#dfbe8a"/>
<rect x="542" y="275" width="86" height="18" fill="#4fb3c6"/>
<rect x="542" y="293" width="86" height="34" fill="#f0e3cc"/>
<rect x="542" y="327" width="86" height="18" fill="#4fb3c6"/>
<rect x="551" y="298" width="10" height="24" fill="#a9d6e8"/>
<rect x="570" y="298" width="10" height="24" fill="#a9d6e8"/>
<rect x="589" y="298" width="10" height="24" fill="#a9d6e8"/>
<rect x="608" y="298" width="10" height="24" fill="#a9d6e8"/>
<rect x="557" y="345" width="56" height="78" fill="#dfbe8a"/>
<rect x="540" y="420" width="90" height="20" fill="#4fb3c6"/>
<rect x="540" y="440" width="90" height="30" fill="#f0e3cc"/>
<rect x="540" y="470" width="90" height="14" fill="#4fb3c6"/>
<rect x="540" y="484" width="90" height="32" fill="#f0e3cc"/>
<rect x="540" y="516" width="90" height="22" fill="#4fb3c6"/>
<rect x="549" y="444" width="11" height="22" fill="#a9d6e8"/>
<rect x="549" y="488" width="11" height="24" fill="#a9d6e8"/>
<rect x="569" y="444" width="11" height="22" fill="#a9d6e8"/>
<rect x="569" y="488" width="11" height="24" fill="#a9d6e8"/>
<rect x="589" y="444" width="11" height="22" fill="#a9d6e8"/>
<rect x="589" y="488" width="11" height="24" fill="#a9d6e8"/>
<rect x="609" y="444" width="11" height="22" fill="#a9d6e8"/>
<rect x="609" y="488" width="11" height="24" fill="#a9d6e8"/>
<rect x="552" y="538" width="66" height="200" fill="#dfbe8a"/>
<rect x="262" y="355" width="296" height="20" fill="#dfbe8a"/>
<rect x="262" y="362" width="296" height="8" fill="#4fb3c6"/>
<rect x="265" y="375" width="290" height="35" fill="#f0e3cc"/>
<rect x="280" y="382" width="14" height="22" fill="#a9d6e8"/>
<rect x="307" y="382" width="14" height="22" fill="#a9d6e8"/>
<rect x="334" y="382" width="14" height="22" fill="#a9d6e8"/>
<rect x="361" y="382" width="14" height="22" fill="#a9d6e8"/>
<rect x="388" y="382" width="14" height="22" fill="#a9d6e8"/>
<rect x="415" y="382" width="14" height="22" fill="#a9d6e8"/>
<rect x="442" y="382" width="14" height="22" fill="#a9d6e8"/>
<rect x="469" y="382" width="14" height="22" fill="#a9d6e8"/>
<rect x="496" y="382" width="14" height="22" fill="#a9d6e8"/>
<rect x="523" y="382" width="14" height="22" fill="#a9d6e8"/>
<rect x="262" y="410" width="296" height="12" fill="#4fb3c6"/>
<rect x="268" y="422" width="284" height="75" fill="#dfbe8a"/>
<path d="M300,495 V468 Q300,455 312,455 Q324,455 324,468 V495Z" fill="#4fb3c6"/>
<path d="M334,495 V468 Q334,455 346,455 Q358,455 358,468 V495Z" fill="#4fb3c6"/>
<path d="M368,495 V468 Q368,455 380,455 Q392,455 392,468 V495Z" fill="#4fb3c6"/>
<path d="M402,495 V468 Q402,455 414,455 Q426,455 426,468 V495Z" fill="#4fb3c6"/>
<path d="M436,495 V468 Q436,455 448,455 Q460,455 460,468 V495Z" fill="#4fb3c6"/>
<path d="M470,495 V468 Q470,455 482,455 Q494,455 494,468 V495Z" fill="#4fb3c6"/>
<path d="M504,495 V468 Q504,455 516,455 Q528,455 528,468 V495Z" fill="#4fb3c6"/>
<rect x="268" y="495" width="284" height="20" fill="#f0e3cc"/>
<rect x="268" y="515" width="284" height="12" fill="#4fb3c6"/>
<rect x="270" y="527" width="280" height="210" fill="#f0e3cc"/>
<path d="M330,737 V620 Q335,590 408,570 Q481,590 486,620 V737Z" fill="#dfbe8a"/>
<circle cx="293" cy="550" r="9" fill="#4fb3c6"/>
<circle cx="293" cy="605" r="9" fill="#4fb3c6"/>
<circle cx="293" cy="660" r="9" fill="#4fb3c6"/>
<circle cx="522" cy="550" r="9" fill="#4fb3c6"/>
<circle cx="522" cy="605" r="9" fill="#4fb3c6"/>
<circle cx="522" cy="660" r="9" fill="#4fb3c6"/>
<circle cx="348" cy="557" r="12" fill="none" stroke="#dfbe8a" stroke-width="5"/>
<circle cx="468" cy="557" r="12" fill="none" stroke="#dfbe8a" stroke-width="5"/>
</g>

<!-- t51 -->
<g transform="translate(298,715) scale(0.19868)">
<path d="M345,185 Q350,148 385,145 Q420,148 425,185Z" fill="#dfbe8a"/>
<rect x="312" y="178" width="150" height="22" fill="#a9d6e8"/>
<rect x="225" y="197" width="325" height="70" fill="#a9d6e8"/>
<circle cx="283" cy="233" r="17" fill="#dfbe8a"/>
<circle cx="493" cy="233" r="17" fill="#dfbe8a"/>
<rect x="320" y="218" width="135" height="32" fill="#5cb3d6"/>
<rect x="202" y="267" width="372" height="36" fill="#dfbe8a"/>
<rect x="186" y="303" width="403" height="42" fill="#5cb3d6"/>
<path d="M160,345 H612 L598,375 H175Z" fill="#a9d6e8"/>
<rect x="178" y="373" width="418" height="363" fill="#dfbe8a"/>
<g fill="#f0e3cc">
<circle cx="247" cy="425" r="31"/><circle cx="523" cy="425" r="31"/>
<path d="M318,736 V488 Q318,420 386,420 Q455,420 455,488 V736Z"/>
<rect x="200" y="510" width="92" height="17"/><rect x="478" y="510" width="94" height="17"/>
<rect x="200" y="597" width="92" height="17"/><rect x="478" y="597" width="94" height="17"/>
</g>
<g stroke="#dde6ea" stroke-width="4"><path d="M155,270 H200 M575,270 H615 M155,300 H186 M590,300 H620"/></g>
</g>

<!-- t52 -->
<g transform="translate(440,715) scale(0.19868)">
<path d="M345,148 H715 L660,250 H280Z" fill="#8fc04a"/>
<g stroke="#56a063" stroke-width="6" fill="none">
<path d="M329,173 H701 M313,199 H688 M296,224 H674"/>
<path d="M398,148 L334,250 M451,148 L389,250 M504,148 L443,250 M557,148 L497,250 M610,148 L552,250 M663,148 L606,250"/>
</g>
<rect x="276" y="248" width="385" height="17" fill="#0b73c8"/>
<rect x="485" y="265" width="15" height="480" fill="#0b73c8"/>
<path d="M430,372 A62,62 0 0 1 555,372 V555 H430Z" fill="#0b45a8"/>
<circle cx="493" cy="368" r="52" fill="#8fc04a"/>
<path d="M500,335 L480,372 L495,372 L486,400 L510,362 L495,362Z" fill="#0b3fa3"/>
<rect x="462" y="430" width="60" height="100" fill="#0b73c8"/>
<!-- person -->
<rect x="60" y="500" width="50" height="120" fill="#8fcbe3"/>
<path d="M54,440 Q56,420 80,420 Q108,422 113,440 L112,505 H57Z" fill="#1a6fc8"/>
<path d="M54,440 Q56,420 72,420 L70,505 H57Z" fill="#0b45a8"/>
<path d="M103,430 L137,505 L126,513 L95,452Z" fill="#0b45a8"/>
<circle cx="89" cy="392" r="13" fill="#e8b98a"/>
<path d="M76,394 Q75,375 92,377 Q104,380 102,392 Q90,384 76,394Z" fill="#0b3fa3"/>
<!-- scooter -->
<path d="M132,523 H164 L153,587 L166,651 H137 L105,587Z" fill="#1a7ad0"/>
<path d="M158,640 H250 V668 H158Z" fill="#1a7ad0"/>
<circle cx="334" cy="672" r="48" fill="#f0e3cc"/>
<path d="M222,592 L356,587 L392,651 L302,662 L249,668 L228,630Z" fill="#1a7ad0"/>
<rect x="220" y="561" width="142" height="42" rx="21" fill="#0b45a8"/>
<path d="M126,508 L186,518 L184,530 L126,526Z" fill="#0b45a8"/>
<circle cx="262" cy="638" r="20" fill="#8fc04a"/>
<path d="M266,625 L255,642 L263,642 L258,654 L271,637 L263,637Z" fill="#0b3fa3"/>
<circle cx="89" cy="667" r="43" fill="#0b45a8"/>
<circle cx="89" cy="667" r="16" fill="#1a7ad0"/>
<circle cx="334" cy="672" r="40" fill="#0b45a8"/>
<circle cx="334" cy="672" r="15" fill="#1a7ad0"/>
</g>

<!-- t53 -->
<g transform="translate(580,715) scale(0.19868)">
<defs><clipPath id="cp53"><rect x="22" y="33" width="703" height="707"/></clipPath></defs>
<g clip-path="url(#cp53)">
<!-- panels -->
<g fill="#0b73c8"><rect x="228" y="272" width="8" height="28"/><rect x="408" y="272" width="8" height="28"/><rect x="685" y="318" width="8" height="30"/></g>
<path d="M215,190 H505 L455,275 H162Z" fill="#8fc04a"/>
<path d="M665,255 H760 V320 H620Z" fill="#8fc04a"/>
<g stroke="#56a063" stroke-width="5" fill="none">
<path d="M203,211 H493 M190,232 H480 M177,254 H468 M655,276 H760 M645,298 H760"/>
<path d="M251,190 L201,275 M287,190 L237,275 M324,190 L274,275 M360,190 L310,275 M396,190 L346,275 M433,190 L383,275 M469,190 L419,275 M700,255 L655,320"/>
</g>
<rect x="162" y="272" width="293" height="7" fill="#4fb3c6"/>
<!-- building -->
<rect x="140" y="295" width="470" height="170" fill="#78c0de"/>
<rect x="600" y="345" width="160" height="120" fill="#78c0de"/>
<g fill="#f0e3cc">
<rect x="170" y="325" width="38" height="24"/><rect x="240" y="325" width="38" height="24"/><rect x="312" y="325" width="38" height="24"/><rect x="383" y="325" width="38" height="24"/><rect x="455" y="325" width="38" height="24"/><rect x="527" y="325" width="38" height="24"/>
<rect x="170" y="367" width="38" height="25"/><rect x="240" y="367" width="38" height="25"/><rect x="312" y="367" width="38" height="25"/><rect x="383" y="367" width="38" height="25"/><rect x="455" y="367" width="38" height="25"/><rect x="527" y="367" width="38" height="25"/>
</g>
<g stroke="#d9eef6" stroke-width="4" fill="none"><path d="M610,375 h30 M665,375 h30 M720,375 h30 M610,400 h30 M665,400 h30 M720,400 h30"/></g>
<!-- houses -->
<path d="M90,480 L230,440 L385,495 L545,440 L760,505 V645 H90Z" fill="#dfbe8a"/>
<path d="M75,480 L230,408 L385,478 L545,408 L760,490 V515 L545,438 L385,505 L230,438 L75,500Z" fill="#0b73c8"/>
<g fill="#f0e3cc">
<circle cx="230" cy="482" r="16"/><circle cx="545" cy="482" r="16"/>
<rect x="175" y="513" width="110" height="12"/><rect x="490" y="513" width="110" height="12"/>
<rect x="125" y="540" width="210" height="15"/><rect x="440" y="540" width="210" height="15"/>
<rect x="125" y="585" width="210" height="57"/><rect x="440" y="585" width="210" height="57"/>
<rect x="380" y="535" width="20" height="75"/><rect x="690" y="535" width="20" height="75"/>
</g>
<path d="M125,585 H195 L140,640 H125Z M440,585 H510 L455,640 H440Z" fill="#4fb3c6"/>
<path d="M75,640 H760 V675 H40Z" fill="#4fb3c6"/>
</g>
</g>

<!-- t61 -->
<g transform="translate(298,855) scale(0.19868)">
<rect x="95" y="185" width="345" height="222" fill="#0b45a8"/>
<rect x="95" y="258" width="345" height="18" fill="#0b73c8"/>
<circle cx="210" cy="268" r="52" fill="#8fc04a"/>
<path d="M218,230 L195,275 L212,275 L200,305 L228,262 L211,262Z" fill="#0b3fa3"/>
<rect x="95" y="430" width="320" height="62" fill="#0b45a8"/>
<rect x="132" y="490" width="290" height="92" fill="#0b73c8"/>
<rect x="415" y="405" width="25" height="177" fill="#0b45a8"/>
<path d="M450,185 H505 Q568,190 570,325 H450Z" fill="#0b45a8"/>
<path d="M450,322 H560 Q640,330 658,440 V560 Q655,580 630,580 H450Z" fill="#0b73c8"/>
<path d="M465,342 H560 Q595,350 605,425 H465Z" fill="#0b45a8"/>
<rect x="470" y="438" width="25" height="8" rx="4" fill="#0b45a8"/>
<rect x="438" y="185" width="12" height="397" fill="#5ab0e0"/>
<ellipse cx="620" cy="480" rx="20" ry="21" fill="#c9e3ef"/>
<circle cx="245" cy="580" r="58" fill="#a9d6e8"/>
<circle cx="245" cy="580" r="50" fill="#0b45a8"/>
<circle cx="245" cy="580" r="18" fill="#0b73c8"/>
<circle cx="540" cy="580" r="58" fill="#a9d6e8"/>
<circle cx="540" cy="580" r="50" fill="#0b45a8"/>
<circle cx="540" cy="580" r="18" fill="#0b73c8"/>
</g>

<!-- t62 -->
<g transform="translate(440,855) scale(0.19868)">
<circle cx="232" cy="372" r="52" fill="#dfbe8a"/>
<circle cx="230" cy="490" r="70" fill="#dfbe8a"/>
<rect x="378" y="215" width="135" height="282" rx="67" fill="#6bbde0"/>
<g stroke="#2f86c4" stroke-width="6"><path d="M232,355 V600 M448,315 V620"/></g>
</g>
<defs><clipPath id="cpHill"><rect x="400" y="950" width="200" height="52.6"/></clipPath></defs>
<g clip-path="url(#cpHill)" fill="#0b43a6">
<ellipse cx="434" cy="1005" rx="22" ry="17"/>
<circle cx="460" cy="997" r="15"/>
<circle cx="486" cy="992.5" r="21.2"/>
<circle cx="516" cy="992.5" r="21.2"/>
<circle cx="543" cy="996" r="17"/>
<ellipse cx="567" cy="1003.5" rx="18" ry="17.2"/>
<rect x="430" y="995" width="140" height="10"/>
</g>

<!-- t63 -->
<g transform="translate(580,855) scale(0.19868)">
<defs><clipPath id="cp63"><rect x="22" y="37" width="703" height="710"/></clipPath></defs>
<g clip-path="url(#cp63)">
<path d="M20,318 H635 Q655,318 655,340 V600 H20Z" fill="#e6c497"/>
<path d="M20,595 H652 L730,680 V735 H20Z" fill="#a9d6e8"/>
<rect x="20" y="720" width="710" height="26" fill="#0b73c8"/>
<path d="M20,175 H592 L685,228 V243 H20Z" fill="#0b73c8"/>
<rect x="595" y="240" width="12" height="418" fill="#0b73c8"/>
<!-- partial car at left edge -->
<path d="M0,500 Q30,495 45,520 V690 Q45,740 20,740 H0Z" fill="#0b73c8"/>
<path d="M0,690 H40 V745 H0Z" fill="#0b45a8"/>
<!-- charger -->
<path d="M48,322 A45,45 0 0 1 138,322 V450 H48Z" fill="#0b45a8"/>
<circle cx="93" cy="322" r="35" fill="#8fc04a"/>
<path d="M99,298 L84,326 L95,326 L88,346 L106,318 L95,318Z" fill="#0b3fa3"/>
<rect x="70" y="370" width="48" height="68" fill="#0b73c8"/>
<path d="M72,450 V540 Q72,555 50,555 M118,450 V540 Q118,555 138,555" stroke="#7d8a96" stroke-width="5" fill="none"/>
<!-- car front -->
<path d="M245,385 H455 Q470,385 480,400 L545,490 Q570,520 570,560 V665 Q570,680 550,680 H155 Q135,680 135,665 V560 Q135,520 160,490 L225,400 Q232,385 245,385Z" fill="#0b45a8"/>
<path d="M250,400 H455 L525,500 H180Z" fill="#0b73c8"/>
<rect x="150" y="640" width="58" height="60" rx="14" fill="#0b45a8"/>
<rect x="498" y="640" width="58" height="60" rx="14" fill="#0b45a8"/>
<path d="M155,560 Q200,555 235,580 Q232,600 200,602 H160 Q150,585 155,560Z" fill="#8fc04a"/>
<path d="M550,560 Q505,555 470,580 Q473,600 505,602 H545 Q555,585 550,560Z" fill="#8fc04a"/>
<path d="M250,585 H460 Q455,615 420,625 H290 Q255,615 250,585Z" fill="#0b73c8"/>
</g>
</g>

<!-- palace -->
<g><rect x="78.00" y="967.00" width="68.00" height="36.30" fill="#dfbe8a"/>
<rect x="78.00" y="974.00" width="68.00" height="4.50" fill="#a6d3e4"/>
<rect x="78.00" y="986.00" width="68.00" height="4.00" fill="#a6d3e4"/>
<rect x="95.50" y="967.00" width="4.50" height="36.30" fill="#a6d3e4"/>
<rect x="125.00" y="967.00" width="4.50" height="36.30" fill="#a6d3e4"/>
<rect x="84.00" y="977.50" width="5.00" height="7.50" fill="#f0e3cc"/>
<rect x="103.00" y="977.50" width="4.50" height="7.50" fill="#f0e3cc"/>
<rect x="108.60" y="977.50" width="4.40" height="7.50" fill="#f0e3cc"/>
<rect x="114.50" y="977.50" width="4.50" height="7.50" fill="#f0e3cc"/>
<rect x="134.50" y="977.50" width="5.00" height="7.50" fill="#f0e3cc"/>
<rect x="109.40" y="991.00" width="6.00" height="12.30" fill="#f0e3cc"/>
<rect x="104.50" y="962.00" width="7.20" height="5.50" fill="#dfbe8a"/>
<path d="M104.5,962.5 Q104.5,958.5 108.1,954.5 Q111.7,958.5 111.7,962.5Z" fill="#0b73c8"/>
<path d="M107.5,955.5 L108.1,952 L108.69999999999999,955.5Z" fill="#0b73c8" stroke="#0b73c8" stroke-width="0.6"/>
<rect x="57.50" y="952.00" width="21.00" height="51.30" fill="#a6d3e4"/>
<rect x="56.00" y="956.00" width="24.00" height="3.50" fill="#dfbe8a"/>
<rect x="56.00" y="972.00" width="24.00" height="3.00" fill="#dfbe8a"/>
<rect x="56.00" y="986.00" width="24.00" height="3.00" fill="#dfbe8a"/>
<rect x="65.50" y="963.00" width="5.00" height="6.00" fill="#f0e3cc"/>
<rect x="65.50" y="977.50" width="5.00" height="5.50" fill="#f0e3cc"/>
<rect x="62.00" y="940.00" width="13.00" height="12.50" fill="#dfbe8a"/>
<path d="M66,951 V945 Q68.5,942 71,945 V951Z" fill="#f0e3cc"/>
<path d="M62,941 Q62,932 68.5,928 Q75,932 75,941Z" fill="#0b73c8"/>
<path d="M67.9,929 L68.5,923.5 L69.1,929Z" fill="#0b73c8" stroke="#0b73c8" stroke-width="0.6"/>
<rect x="145.50" y="962.00" width="18.30" height="41.30" fill="#a6d3e4"/>
<rect x="145.50" y="965.50" width="18.30" height="4.50" fill="#f0e3cc"/>
<rect x="145.50" y="983.00" width="18.30" height="4.00" fill="#f0e3cc"/>
<rect x="151.60" y="989.50" width="5.10" height="9.50" fill="#f0e3cc"/>
<rect x="147.00" y="954.50" width="11.50" height="8.50" fill="#dfbe8a"/>
<path d="M150.5,962 V958 Q152.7,955.5 155,958 V962Z" fill="#f0e3cc"/>
<path d="M147,955 Q147,950.5 152.75,946.5 Q158.5,950.5 158.5,955Z" fill="#0b73c8"/>
<path d="M152.15,947.5 L152.75,943.5 L153.35,947.5Z" fill="#0b73c8" stroke="#0b73c8" stroke-width="0.6"/></g>
<g transform="translate(361.0,0) scale(-1,1)"><rect x="78.00" y="967.00" width="68.00" height="36.30" fill="#dfbe8a"/>
<rect x="78.00" y="974.00" width="68.00" height="4.50" fill="#a6d3e4"/>
<rect x="78.00" y="986.00" width="68.00" height="4.00" fill="#a6d3e4"/>
<rect x="95.50" y="967.00" width="4.50" height="36.30" fill="#a6d3e4"/>
<rect x="125.00" y="967.00" width="4.50" height="36.30" fill="#a6d3e4"/>
<rect x="84.00" y="977.50" width="5.00" height="7.50" fill="#f0e3cc"/>
<rect x="103.00" y="977.50" width="4.50" height="7.50" fill="#f0e3cc"/>
<rect x="108.60" y="977.50" width="4.40" height="7.50" fill="#f0e3cc"/>
<rect x="114.50" y="977.50" width="4.50" height="7.50" fill="#f0e3cc"/>
<rect x="134.50" y="977.50" width="5.00" height="7.50" fill="#f0e3cc"/>
<rect x="109.40" y="991.00" width="6.00" height="12.30" fill="#f0e3cc"/>
<rect x="104.50" y="962.00" width="7.20" height="5.50" fill="#dfbe8a"/>
<path d="M104.5,962.5 Q104.5,958.5 108.1,954.5 Q111.7,958.5 111.7,962.5Z" fill="#0b73c8"/>
<path d="M107.5,955.5 L108.1,952 L108.69999999999999,955.5Z" fill="#0b73c8" stroke="#0b73c8" stroke-width="0.6"/>
<rect x="57.50" y="952.00" width="21.00" height="51.30" fill="#a6d3e4"/>
<rect x="56.00" y="956.00" width="24.00" height="3.50" fill="#dfbe8a"/>
<rect x="56.00" y="972.00" width="24.00" height="3.00" fill="#dfbe8a"/>
<rect x="56.00" y="986.00" width="24.00" height="3.00" fill="#dfbe8a"/>
<rect x="65.50" y="963.00" width="5.00" height="6.00" fill="#f0e3cc"/>
<rect x="65.50" y="977.50" width="5.00" height="5.50" fill="#f0e3cc"/>
<rect x="62.00" y="940.00" width="13.00" height="12.50" fill="#dfbe8a"/>
<path d="M66,951 V945 Q68.5,942 71,945 V951Z" fill="#f0e3cc"/>
<path d="M62,941 Q62,932 68.5,928 Q75,932 75,941Z" fill="#0b73c8"/>
<path d="M67.9,929 L68.5,923.5 L69.1,929Z" fill="#0b73c8" stroke="#0b73c8" stroke-width="0.6"/>
<rect x="145.50" y="962.00" width="18.30" height="41.30" fill="#a6d3e4"/>
<rect x="145.50" y="965.50" width="18.30" height="4.50" fill="#f0e3cc"/>
<rect x="145.50" y="983.00" width="18.30" height="4.00" fill="#f0e3cc"/>
<rect x="151.60" y="989.50" width="5.10" height="9.50" fill="#f0e3cc"/>
<rect x="147.00" y="954.50" width="11.50" height="8.50" fill="#dfbe8a"/>
<path d="M150.5,962 V958 Q152.7,955.5 155,958 V962Z" fill="#f0e3cc"/>
<path d="M147,955 Q147,950.5 152.75,946.5 Q158.5,950.5 158.5,955Z" fill="#0b73c8"/>
<path d="M152.15,947.5 L152.75,943.5 L153.35,947.5Z" fill="#0b73c8" stroke="#0b73c8" stroke-width="0.6"/></g>

<rect x="163.6" y="962" width="35.3" height="41.3" fill="#dfbe8a"/>
<path d="M168.7,1003.3 V980 Q168.7,968 180.7,967.5 Q192.8,968 192.8,980 V1003.3Z" fill="#f0e3cc"/>
<path d="M171.5,977 Q172,971 180.7,970.5 Q189.5,971 190,977Z" fill="#a6d3e4"/>
<rect x="172" y="984" width="7" height="16" fill="#a6d3e4"/><rect x="182.5" y="984" width="7" height="16" fill="#a6d3e4"/>
<rect x="165" y="957.5" width="32.5" height="5" fill="#7cc0dc"/>
<rect x="163.5" y="950" width="35" height="8" fill="#dfbe8a"/>
<rect x="162" y="950.5" width="38" height="5" rx="2.5" fill="#a6d3e4"/>
<path d="M164.5,944 Q166,931.5 181,931 Q196,931.5 197.5,944Z" fill="#dfbe8a"/>
<rect x="161" y="942.5" width="39.5" height="6" rx="3" fill="#a6d3e4"/>
<rect x="163" y="947" width="36" height="3.5" fill="#dfbe8a"/>
<rect x="177" y="926" width="8" height="5" fill="#0b73c8"/>
<rect x="178.5" y="921.5" width="5" height="5" fill="#dfbe8a"/>
<path d="M179.5,922 L177.5,912 L179,912 L181,918 L183,912 L184.5,912 L182.5,922Z" fill="#dfbe8a"/>


<g transform="translate(106.70,180.20)"><path d="M0.00,0.00h7.10v46.70h-7.10z" fill="#0843a6"/></g>
<g transform="translate(120.00,180.20)"><path d="M0.00,0.00h7.10v46.70h-7.10z" fill="#0843a6"/><path d="M17.20,0.00h7.10v46.70h-7.10z" fill="#0843a6"/><path d="M0.00,0.00L7.90,0.00L24.30,46.70L16.40,46.70z" fill="#0843a6"/></g>
<g transform="translate(150.00,180.20)"><path d="M3.55,3.55H11.95A7.5,7.5 0 0 1 19.45,11.05V35.650000000000006A7.5,7.5 0 0 1 11.95,43.150000000000006H3.55Z" fill="none" stroke="#0843a6" stroke-width="7.1"/></g>
<g transform="translate(177.30,180.20)"><path d="M0.00,0.00h7.10v46.70h-7.10z" fill="#0843a6"/></g>
<g transform="translate(189.30,180.20)"><path d="M0.00,46.70L7.45,0.00L17.95,0.00L25.40,46.70L17.20,46.70L13.00,7.60L12.40,7.60L8.20,46.70z" fill="#0843a6"/><path d="M4.50,32.46h16.40v5.60h-16.40z" fill="#0843a6"/></g>
<g transform="translate(230.20,180.20)"><path d="M0.00,0.00h7.10v46.70h-7.10z" fill="#0843a6"/><path d="M0.00,0.00h19.80v7.10h-19.80z" fill="#0843a6"/><path d="M0.00,19.30h17.60v7.10h-17.60z" fill="#0843a6"/><path d="M0.00,39.60h19.80v7.10h-19.80z" fill="#0843a6"/></g>
<g transform="translate(256.00,180.20)"><path d="M0.00,0.00h7.10v46.70h-7.10z" fill="#0843a6"/><path d="M0.00,39.60h18.90v7.10h-18.90z" fill="#0843a6"/></g>
<g transform="translate(279.00,180.20)"><path d="M0.00,0.00h7.10v46.70h-7.10z" fill="#0843a6"/><path d="M0.00,0.00h19.40v7.10h-19.40z" fill="#0843a6"/><path d="M0.00,19.30h17.20v7.10h-17.20z" fill="#0843a6"/><path d="M0.00,39.60h19.40v7.10h-19.40z" fill="#0843a6"/></g>
<g transform="translate(304.00,180.20)"><path d="M17.95,15.411000000000001V10.174A6.6240000000000006,6.6240000000000006 0 0 0 11.325999999999999,3.55H10.174A6.6240000000000006,6.6240000000000006 0 0 0 3.55,10.174V36.526A6.6240000000000006,6.6240000000000006 0 0 0 10.174,43.150000000000006H11.325999999999999A6.6240000000000006,6.6240000000000006 0 0 0 17.95,36.526V29.654500000000002" fill="none" stroke="#0843a6" stroke-width="7.1"/></g>
<g transform="translate(328.90,180.20)"><path d="M0.00,0.00h22.40v7.10h-22.40z" fill="#0843a6"/><path d="M7.65,0.00h7.10v46.70h-7.10z" fill="#0843a6"/></g>
<g transform="translate(355.60,180.20)"><path d="M0.00,0.00h7.10v46.70h-7.10z" fill="#0843a6"/><path d="M13.50,23.28L21.20,23.28L22.40,46.70L15.30,46.70z" fill="#0843a6"/><path d="M3.55,3.55H11.849999999999977A7.0,7.0 0 0 1 18.849999999999977,10.55V17.284000000000002A7.0,7.0 0 0 1 11.849999999999977,24.284000000000002H3.55" fill="none" stroke="#0843a6" stroke-width="7.1"/></g>
<g transform="translate(383.20,180.20)"><path d="M0.00,0.00h7.10v46.70h-7.10z" fill="#0843a6"/></g>
<g transform="translate(396.10,180.20)"><path d="M18.349999999999977,15.411000000000001V10.35799999999999A6.80799999999999,6.80799999999999 0 0 0 11.541999999999987,3.55H10.35799999999999A6.80799999999999,6.80799999999999 0 0 0 3.55,10.35799999999999V36.34200000000001A6.80799999999999,6.80799999999999 0 0 0 10.35799999999999,43.150000000000006H11.541999999999987A6.80799999999999,6.80799999999999 0 0 0 18.349999999999977,36.34200000000001V29.654500000000002" fill="none" stroke="#0843a6" stroke-width="7.1"/></g>
<g transform="translate(106.70,253.50)"><path d="M0.00,0.00h7.10v46.70h-7.10z" fill="#0843a6"/><path d="M23.70,0.00h7.10v46.70h-7.10z" fill="#0843a6"/><path d="M0.00,0.00L8.90,0.00L17.20,39.23L13.60,39.23z" fill="#0843a6"/><path d="M30.80,0.00L21.90,0.00L13.60,39.23L17.20,39.23z" fill="#0843a6"/></g>
<g transform="translate(143.90,253.50)"><path d="M3.55,9.851999999999993A6.3019999999999925,6.3019999999999925 0 0 1 9.851999999999993,3.55H10.94799999999999A6.3019999999999925,6.3019999999999925 0 0 1 17.249999999999982,9.851999999999993V36.84800000000001A6.3019999999999925,6.3019999999999925 0 0 1 10.94799999999999,43.150000000000006H9.851999999999993A6.3019999999999925,6.3019999999999925 0 0 1 3.55,36.84800000000001Z" fill="none" stroke="#0843a6" stroke-width="7.1"/></g>
<g transform="translate(170.80,253.50)"><path d="M0.00,0.00h7.10v46.70h-7.10z" fill="#0843a6"/><path d="M3.55,3.55H11.049999999999983A6.5,6.5 0 0 1 17.549999999999983,10.05V16.35A6.5,6.5 0 0 1 11.049999999999983,22.85H3.55 M3.55,22.85H11.549999999999983A7.2,7.2 0 0 1 18.749999999999982,30.05V35.95A7.2,7.2 0 0 1 11.549999999999983,43.150000000000006H3.55" fill="none" stroke="#0843a6" stroke-width="7.1"/></g>
<g transform="translate(199.20,253.50)"><path d="M0.00,0.00h7.10v46.70h-7.10z" fill="#0843a6"/></g>
<g transform="translate(212.30,253.50)"><path d="M0.00,0.00h7.10v46.70h-7.10z" fill="#0843a6"/><path d="M0.00,39.60h19.40v7.10h-19.40z" fill="#0843a6"/></g>
<g transform="translate(236.00,253.50)"><path d="M0.00,0.00h7.10v46.70h-7.10z" fill="#0843a6"/></g>
<g transform="translate(248.00,253.50)"><path d="M0.00,0.00h22.90v7.10h-22.90z" fill="#0843a6"/><path d="M7.90,0.00h7.10v46.70h-7.10z" fill="#0843a6"/></g>
<g transform="translate(271.40,253.50)"><path d="M0.00,0.00L7.90,0.00L16.45,24.28L9.35,26.28z" fill="#0843a6"/><path d="M25.80,0.00L17.90,0.00L9.35,24.28L16.45,26.28z" fill="#0843a6"/><path d="M9.35,23.28h7.10v23.42h-7.10z" fill="#0843a6"/></g>
<g transform="translate(312.70,253.50)"><path d="M0.00,0.00h7.10v46.70h-7.10z" fill="#0843a6"/></g>
<g transform="translate(325.20,253.50)"><path d="M0.00,0.00h7.10v46.70h-7.10z" fill="#0843a6"/><path d="M16.60,0.00h7.10v46.70h-7.10z" fill="#0843a6"/><path d="M0.00,0.00L7.90,0.00L23.70,46.70L15.80,46.70z" fill="#0843a6"/></g>
<g transform="translate(354.70,253.50)"><path d="M3.55,3.55H11.850000000000033A7.5,7.5 0 0 1 19.350000000000033,11.05V35.650000000000006A7.5,7.5 0 0 1 11.850000000000033,43.150000000000006H3.55Z" fill="none" stroke="#0843a6" stroke-width="7.1"/></g>
<g transform="translate(383.60,253.50)"><path d="M0.00,0.00h7.10v46.70h-7.10z" fill="#0843a6"/><path d="M0.00,0.00h19.40v7.10h-19.40z" fill="#0843a6"/><path d="M0.00,19.30h17.20v7.10h-17.20z" fill="#0843a6"/><path d="M0.00,39.60h19.40v7.10h-19.40z" fill="#0843a6"/></g>
<g transform="translate(406.60,253.50)"><path d="M0.50,0.00L8.60,0.00L26.70,46.70L18.60,46.70z" fill="#0843a6"/><path d="M26.20,0.00L18.10,0.00L0.00,46.70L8.10,46.70z" fill="#0843a6"/></g>
<g transform="translate(448.90,253.30)"><path d="M0.00,39.60h22.10v7.10h-22.10z" fill="#fdfcf8"/><path d="M3.55,16.812V11.050000000000011A7.5000000000000115,7.5000000000000115 0 0 1 18.550000000000022,11.050000000000011V20.548000000000002Q18.550000000000022,26.152000000000005 15.050000000000022,29.888L3.8499999999999996,42.650000000000006" fill="none" stroke="#fdfcf8" stroke-width="7.1"/></g>
<g transform="translate(475.30,253.30)"><path d="M3.55,10.772000000000006A7.222000000000006,7.222000000000006 0 0 1 10.772000000000006,3.55H12.028000000000006A7.222000000000006,7.222000000000006 0 0 1 19.25000000000001,10.772000000000006V35.928A7.222000000000006,7.222000000000006 0 0 1 12.028000000000006,43.150000000000006H10.772000000000006A7.222000000000006,7.222000000000006 0 0 1 3.55,35.928Z" fill="none" stroke="#fdfcf8" stroke-width="7.1"/></g>
<g transform="translate(503.40,253.30)"><path d="M0.00,39.60h21.40v7.10h-21.40z" fill="#fdfcf8"/><path d="M3.55,16.812V10.699999999999989A7.149999999999989,7.149999999999989 0 0 1 17.849999999999977,10.699999999999989V20.548000000000002Q17.849999999999977,26.152000000000005 14.349999999999977,29.888L3.8499999999999996,42.650000000000006" fill="none" stroke="#fdfcf8" stroke-width="7.1"/></g>
<g transform="translate(529.00,253.30)"><path d="M14.30,0.00h7.10v46.70h-7.10z" fill="#fdfcf8"/><path d="M12.80,0.00L21.40,0.00L21.40,3.00L7.40,30.36L0.00,30.36L0.00,26.36z" fill="#fdfcf8"/><path d="M0.00,29.76h24.60v7.37h-24.60z" fill="#fdfcf8"/></g>
</svg>
<div class="sub" id="s1" style="left:103.8px;top:317.9px;transform:scaleX(0.975)">Tracking Electric Mobility</div>
<div class="sub" id="s2" style="left:103.8px;top:356.8px;transform:scaleX(0.945)">Trends in Indian States</div>
</body></html>
